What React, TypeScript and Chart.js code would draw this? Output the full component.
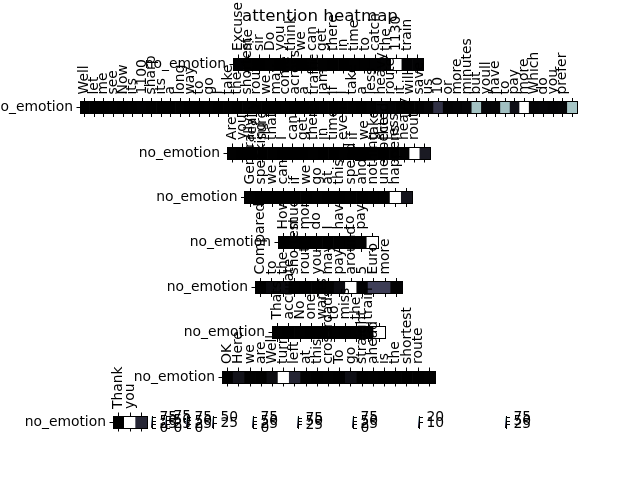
import React, { useEffect, useRef } from "react";
import { Chart, registerables } from "chart.js";

Chart.register(...registerables);

// ---------------- data ----------------
const TITLE = "attention heatmap";
const ROW_LABEL = "no_emotion";

const tokens0 = ["Excuse", "me", "sir", "Do", "you", "think", "we", "can", "get", "there", "in", "time", "to", "catch", "the", "1130", "train", ""];
const values0 = [1.1, 0.9, 0.7, 0.8, 0.6, 1.0, 0.7, 0.9, 1.2, 0.8, 0.6, 0.9, 0.8, 1.3, 1.6, 84.0, 1.5, 1.8];

const tokens1 = ["Well", "let", "me", "see", "Now", "its", "1100", "sharp", "its", "a", "long", "way", "to", "go", "I", "take", "the", "shortest", "route", "we", "may", "come", "across", "a", "traffic", "jam", "If", "I", "take", "a", "less", "heavy", "route", "it", "will", "save", "us", "10", "or", "more", "minutes", "but", "youll", "have", "to", "pay", "more", "Which", "do", "you", "prefer", ""];
const values1 = [0.4, 0.3, 0.3, 0.4, 0.3, 0.4, 0.5, 0.4, 0.3, 0.3, 0.4, 0.3, 0.3, 0.4, 0.3, 0.4, 0.3, 0.5, 0.4, 0.3, 0.3, 0.4, 0.3, 0.3, 0.4, 0.5, 0.3, 0.4, 0.4, 0.3, 0.5, 0.9, 0.6, 0.4, 0.4, 0.5, 0.8, 5.1, 0.6, 0.7, 0.9, 16.2, 0.9, 0.8, 16.0, 1.9, 22.0, 0.8, 0.9, 0.7, 0.8, 16.4];

const tokens2 = ["Are", "you", "really", "sure", "that", "I", "can", "get", "there", "in", "time", "even", "if", "we", "take", "the", "less", "heavy", "route", ""];
const values2 = [0.6, 0.5, 0.4, 0.5, 0.6, 0.5, 0.4, 0.5, 0.6, 0.4, 0.5, 0.6, 0.5, 0.4, 0.6, 0.5, 0.7, 1.0, 80.0, 9.5];

const tokens3 = ["Generally", "speaking", "we", "can", "if", "we", "go", "at", "this", "speed", "and", "nothing", "unexpected", "happens", ""];
const values3 = [0.7, 0.6, 0.5, 0.6, 0.5, 0.6, 0.7, 0.5, 0.6, 0.7, 0.6, 0.8, 0.9, 85.0, 8.5];

const tokens4 = ["How", "much", "more", "do", "I", "have", "to", "pay", ""];
const values4 = [0.9, 1.0, 0.8, 1.1, 0.9, 1.0, 1.2, 1.4, 88.0];

const tokens5 = ["Compared", "to", "the", "shortest", "route", "you", "may", "pay", "around", "5", "Euro", "more", ""];
const values5 = [0.8, 3.2, 3.6, 1.0, 0.9, 1.1, 1.2, 4.0, 60.0, 1.3, 17.5, 17.0, 1.5];

const tokens6 = ["Thats", "accurate", "No", "one", "wants", "to", "miss", "the", "train", ""];
const values6 = [1.0, 0.9, 1.1, 0.8, 0.9, 1.0, 1.2, 1.1, 1.4, 87.0];

const tokens7 = ["OK", "Here", "we", "are", "Well", "turn", "left", "at", "this", "crossroads", "To", "go", "straight", "ahead", "is", "the", "shortest", "route", ""];
const values7 = [1.0, 7.0, 1.5, 1.2, 5.0, 72.0, 13.0, 1.5, 1.0, 1.2, 1.1, 5.5, 1.0, 1.3, 1.0, 1.2, 1.1, 1.3, 1.5];

const tokens8 = ["Thank", "you", ""];
const values8 = [0.5, 78.0, 14.0];

// colorbar ranges and tick steps
const cbMin = [0, 0, 0, 5, 0, 3, 0, 0.5, 3];
const cbMax = [88, 80, 85, 58, 88, 90, 88, 23, 85];
const cbStep = [25, 25, 25, 25, 25, 25, 25, 10, 25];

const ROW_TOKENS = [tokens0, tokens1, tokens2, tokens3, tokens4, tokens5, tokens6, tokens7, tokens8];
const ROW_VALUES = [values0, values1, values2, values3, values4, values5, values6, values7, values8];

// ---------------- layout / style ----------------
const W = 640;
const H = 480;
const FAMILY = "'DejaVu Sans', 'Liberation Sans', sans-serif";
const TICK_SIZE = 13.89;
const TICK_FONT = { family: FAMILY, size: TICK_SIZE, weight: "normal" as const, lineHeight: 1.2 };
const TITLE_FONT = { family: FAMILY, size: 16.67, weight: "normal" as const, lineHeight: 1.2 };
const LABEL_SHIFT = TICK_SIZE * 1.2;
const TITLE_ROW = 1;
const TITLE_TOP = 7;
const TITLE_H = 20;

type Box = { l: number; r: number; t: number; b: number };
const ROW_BOXES: Box[] = [
  { l: 233, r: 423, t: 58, b: 70 },
  { l: 80, r: 577, t: 101.5, b: 113.5 },
  { l: 227, r: 430, t: 147, b: 159 },
  { l: 244.5, r: 412.5, t: 191.5, b: 203.5 },
  { l: 278, r: 378, t: 236.5, b: 248.5 },
  { l: 255, r: 402, t: 281.5, b: 293.5 },
  { l: 272, r: 385, t: 326.5, b: 338.5 },
  { l: 222, r: 435, t: 371, b: 383 },
  { l: 113, r: 147, t: 416, b: 428 },
];
const CB_X = [151, 165, 186, 212, 252, 297, 352, 418, 505];
const CB_W = 1.5;
const CB_TOP = 416;
const CB_BOTTOM = 428;

function bone(t: number): [number, number, number] {
  const x = Math.max(0, Math.min(1, t));
  const r = x < 0.746032 ? (0.652778 * x) / 0.746032 : 0.652778 + ((x - 0.746032) * (1 - 0.652778)) / (1 - 0.746032);
  let g: number;
  if (x < 0.365079) g = (0.319444 * x) / 0.365079;
  else if (x < 0.746032) g = 0.319444 + ((x - 0.365079) * (0.777778 - 0.319444)) / (0.746032 - 0.365079);
  else g = 0.777778 + ((x - 0.746032) * (1 - 0.777778)) / (1 - 0.746032);
  const b = x < 0.365079 ? (0.444444 * x) / 0.365079 : 0.444444 + ((x - 0.365079) * (1 - 0.444444)) / (1 - 0.365079);
  return [r * 255, g * 255, b * 255];
}
function boneCss(t: number): string {
  const [r, g, b] = bone(t);
  return `rgb(${Math.round(r)},${Math.round(g)},${Math.round(b)})`;
}

const tickGrid = {
  display: true,
  drawOnChartArea: false,
  drawTicks: true,
  offset: false,
  tickLength: 3.5,
  color: "#000",
  lineWidth: 1,
};
const spine = { display: true, color: "#000", width: 1, z: 1 };

function heatmapConfig(tokens: string[], values: number[], box: Box, withTitle: boolean): any {
  const min = Math.min(...values);
  const max = Math.max(...values);
  const colors = values.map((v) => boneCss((v - min) / (max - min)));
  const padTop = withTitle ? TITLE_TOP : 0;
  const topH = box.t - padTop - (withTitle ? TITLE_H : 0);
  return {
    type: "bar",
    data: {
      labels: tokens,
      datasets: [
        {
          data: values.map(() => 1),
          backgroundColor: colors,
          borderWidth: 0,
          barPercentage: 1,
          categoryPercentage: 1,
          xAxisID: "x",
          yAxisID: "y",
        },
      ],
    },
    options: {
      animation: false,
      responsive: false,
      events: [],
      layout: { padding: { left: 0, right: 0, top: padTop, bottom: H - box.b } },
      plugins: {
        legend: { display: false },
        tooltip: { enabled: false },
        title: {
          display: withTitle,
          text: TITLE,
          color: "#000",
          font: TITLE_FONT,
          padding: 0,
        },
      },
      scales: {
        x: {
          type: "category",
          position: "top",
          offset: true,
          grid: tickGrid,
          border: spine,
          ticks: {
            autoSkip: false,
            minRotation: 90,
            maxRotation: 90,
            padding: 3.5,
            labelOffset: LABEL_SHIFT,
            color: "#000",
            font: TICK_FONT,
          },
          afterFit: (s: any) => {
            s.height = topH;
          },
        },
        x2: {
          type: "category",
          labels: tokens,
          position: "bottom",
          offset: true,
          grid: tickGrid,
          border: spine,
          ticks: { autoSkip: false, callback: () => "", padding: 0 },
          afterFit: (s: any) => {
            s.height = 0;
          },
        },
        y: { type: "linear", min: 0, max: 1, display: false },
        yl: {
          type: "category",
          labels: [ROW_LABEL],
          position: "left",
          offset: true,
          grid: tickGrid,
          border: spine,
          ticks: { color: "#000", font: TICK_FONT, padding: 3.5 },
          afterFit: (s: any) => {
            s.width = box.l;
          },
        },
        yr: {
          type: "category",
          labels: [ROW_LABEL],
          position: "right",
          offset: true,
          grid: { display: false },
          border: spine,
          ticks: { display: false },
          afterFit: (s: any) => {
            s.width = W - box.r;
          },
        },
      },
    },
  };
}

function colorbarConfig(i: number): any {
  const min = cbMin[i];
  const max = cbMax[i];
  const step = cbStep[i];
  const tickVals: number[] = [];
  for (let v = Math.ceil(min / step) * step; v <= max; v += step) tickVals.push(v);
  const left = CB_X[i];
  return {
    type: "bar",
    data: {
      labels: [""],
      datasets: [
        {
          data: [[min, max]],
          borderWidth: 0,
          barPercentage: 1,
          categoryPercentage: 1,
          backgroundColor: (ctx: any) => {
            const area = ctx.chart.chartArea;
            if (!area) return "#000";
            const g = ctx.chart.ctx.createLinearGradient(0, area.bottom, 0, area.top);
            [0, 0.365079, 0.746032, 1].forEach((s) => g.addColorStop(s, boneCss(s)));
            return g;
          },
        },
      ],
    },
    options: {
      animation: false,
      responsive: false,
      events: [],
      layout: { padding: { left: left, right: 0, top: CB_TOP, bottom: H - CB_BOTTOM } },
      plugins: { legend: { display: false }, tooltip: { enabled: false }, title: { display: false } },
      scales: {
        x: { type: "category", display: false },
        y: {
          type: "linear",
          position: "right",
          min,
          max,
          grid: { display: true, drawOnChartArea: false, drawTicks: true, tickLength: 3.5, color: "#000", lineWidth: 1 },
          border: spine,
          ticks: { autoSkip: false, padding: 3.5, color: "#000", font: TICK_FONT },
          afterBuildTicks: (s: any) => {
            s.ticks = tickVals.map((v) => ({ value: v }));
          },
          afterFit: (s: any) => {
            s.width = W - left - CB_W;
          },
        },
      },
    },
  };
}

export default function App() {
  const refs = useRef<(HTMLCanvasElement | null)[]>([]);
  const total = ROW_TOKENS.length + CB_X.length;

  useEffect(() => {
    const charts: Chart[] = [];
    ROW_TOKENS.forEach((tokens, i) => {
      const c = refs.current[i];
      if (c) charts.push(new Chart(c, heatmapConfig(tokens, ROW_VALUES[i], ROW_BOXES[i], i === TITLE_ROW)));
    });
    CB_X.forEach((_, j) => {
      const c = refs.current[ROW_TOKENS.length + j];
      if (c) charts.push(new Chart(c, colorbarConfig(j)));
    });
    return () => charts.forEach((ch) => ch.destroy());
  }, []);

  return (
    <div style={{ position: "fixed", left: 0, top: 0, width: W, height: H, background: "#fff", overflow: "hidden" }}>
      {Array.from({ length: total }).map((_, i) => (
        <canvas
          key={i}
          ref={(el) => {
            refs.current[i] = el;
          }}
          width={W}
          height={H}
          style={{ position: "absolute", left: 0, top: 0, width: W, height: H }}
        />
      ))}
    </div>
  );
}
